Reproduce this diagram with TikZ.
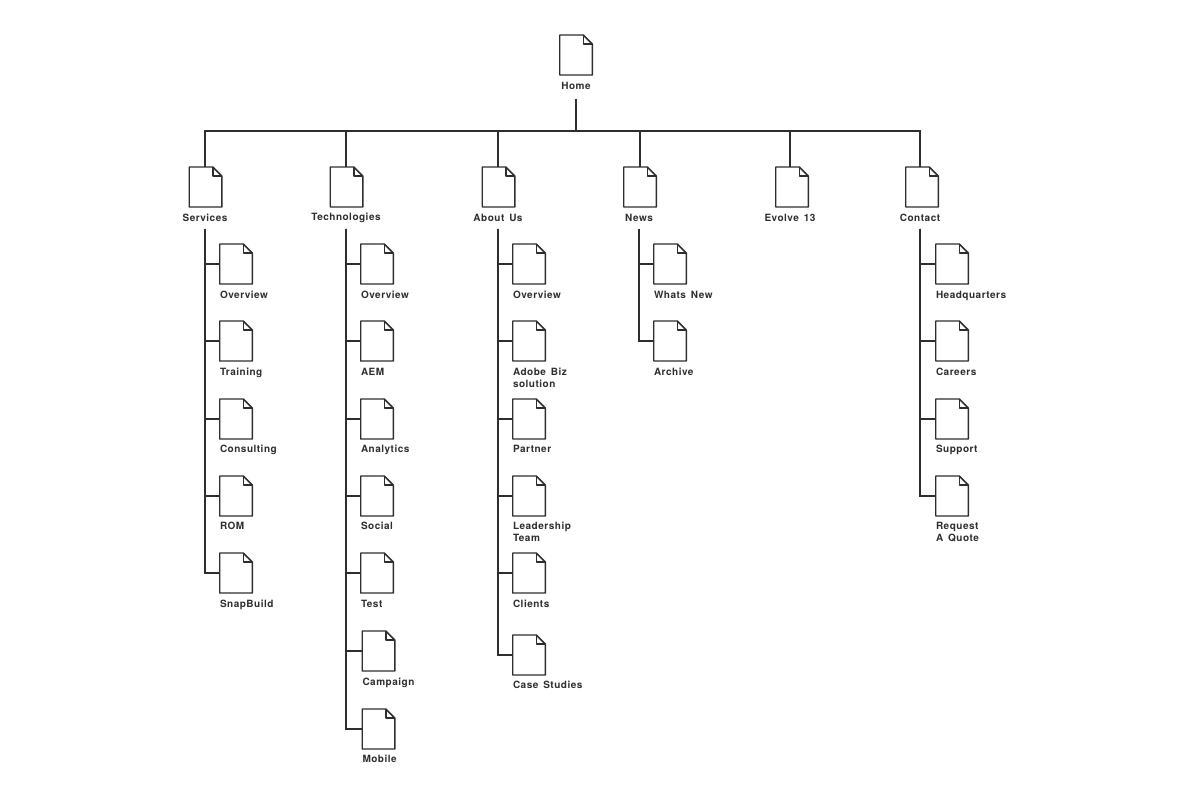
\documentclass[tikz,border=0pt]{standalone}
\usepackage{fontspec}
\setmainfont[LetterSpace=5,WordSpace=1.5]{TeX Gyre Heros}
\usetikzlibrary{calc}
\definecolor{clrLine}{HTML}{2E2E2E}
\tikzset{
  doc/.style={rectangle, inner sep=0pt, outer sep=0pt,
    minimum width=24.4pt, minimum height=30pt,
    append after command={\pgfextra{
      \draw[docline] ($(\tikzlastnode.north east)+(-9,0)$) -- (\tikzlastnode.north west)
        -- (\tikzlastnode.south west) -- (\tikzlastnode.south east)
        -- ($(\tikzlastnode.north east)+(0,9)$) -- cycle;
      \draw[docline] ($(\tikzlastnode.north east)+(-9,0)$) -- ++(0,9)
        -- ($(\tikzlastnode.north east)+(0,9)$);
    }}},
  docline/.style={line width=1.1pt, clrLine, line join=round},
  wire/.style={line width=1.15pt, clrLine},
  lab/.style={inner sep=0pt, outer sep=0pt, text=clrLine, minimum height=16.5pt,
    font=\fontsize{7.5}{9.4}\selectfont\bfseries},
  leaf/.style={inner sep=0pt, outer sep=0pt, text=clrLine, anchor=north west, align=left,
    font=\fontsize{7.5}{9.4}\selectfont\bfseries},
}
\begin{document}
\begin{tikzpicture}[x=0.75pt, y=-0.75pt]
\useasboundingbox (0,0) rectangle (1200,803);

\def\ylab{217.5}
\def\ytop{187}

% home
\node[doc] (docHome) at (576, 55) {};
\node[lab, minimum height=19.5pt] (labHome) at (576, 85.5) {Home};
\coordinate (bus) at (576, 131);
\draw[wire] (labHome.south) -- (bus);

% first level
\node[doc] (docServices) at (205.5, \ytop) {};
\node[lab] (labServices) at (205, \ylab) {Services};
\node[doc] (docTech) at (346.5, \ytop) {};
\node[lab] (labTech) at (346, \ylab) {Technologies};
\node[doc] (docAbout) at (498.5, \ytop) {};
\node[lab] (labAbout) at (498, \ylab) {About Us};
\node[doc] (docNews) at (640, \ytop) {};
\node[lab] (labNews) at (639, \ylab) {News};
\node[doc] (docEvolve) at (792, \ytop) {};
\node[lab] (labEvolve) at (790, \ylab) {Evolve 13};
\node[doc] (docContact) at (922, \ytop) {};
\node[lab] (labContact) at (920, \ylab) {Contact};
\draw[wire] ([xshift=-0.4pt]docServices.north) |- (bus);
\draw[wire] ([xshift=-0.4pt]docTech.north) |- (bus);
\draw[wire] ([xshift=-0.4pt]docAbout.north) |- (bus);
\draw[wire] (docNews.north) |- (bus);
\draw[wire] ([xshift=-1.5pt]docEvolve.north) |- (bus);
\draw[wire] ([xshift=-1.5pt]docContact.north) |- (bus);

% services
\node[doc] (s1) at (236, 264) {};
\node[leaf] (ls1) at (220, 291) {Overview};
\node[doc] (s2) at (236, 341) {};
\node[leaf] (ls2) at (220, 368) {Training};
\node[doc] (s3) at (236, 419) {};
\node[leaf] (ls3) at (220, 445) {Consulting};
\node[doc] (s4) at (236, 496) {};
\node[leaf] (ls4) at (220, 522) {ROM};
\node[doc] (s5) at (236, 573) {};
\node[leaf] (ls5) at (220, 600) {SnapBuild};
\draw[wire] (labServices.south) |- (s1.west);
\draw[wire] (labServices.south) |- (s2.west);
\draw[wire] (labServices.south) |- (s3.west);
\draw[wire] (labServices.south) |- (s4.west);
\draw[wire] (labServices.south) |- (s5.west);

% technologies
\node[doc] (t1) at (377, 264) {};
\node[leaf] (lt1) at (361, 291) {Overview};
\node[doc] (t2) at (377, 341) {};
\node[leaf] (lt2) at (361, 368) {AEM};
\node[doc] (t3) at (377, 419) {};
\node[leaf] (lt3) at (361, 445) {Analytics};
\node[doc] (t4) at (377, 496) {};
\node[leaf] (lt4) at (361, 522) {Social};
\node[doc] (t5) at (377, 573) {};
\node[leaf] (lt5) at (361, 600) {Test};
\node[doc] (t6) at (378.5, 651) {};
\node[leaf] (lt6) at (362.5, 678) {Campaign};
\node[doc] (t7) at (378.5, 729) {};
\node[leaf] (lt7) at (362.5, 755) {Mobile};
\draw[wire] (labTech.south) |- (t1.west);
\draw[wire] (labTech.south) |- (t2.west);
\draw[wire] (labTech.south) |- (t3.west);
\draw[wire] (labTech.south) |- (t4.west);
\draw[wire] (labTech.south) |- (t5.west);
\draw[wire] (labTech.south) |- (t6.west);
\draw[wire] (labTech.south) |- (t7.west);

% about us
\node[doc] (a1) at (529, 264) {};
\node[leaf] (la1) at (513, 291) {Overview};
\node[doc] (a2) at (529, 341) {};
\node[leaf] (la2) at (513, 368) {Adobe Biz\\solution};
\node[doc] (a3) at (529, 419) {};
\node[leaf] (la3) at (513, 445) {Partner};
\node[doc] (a4) at (529, 496) {};
\node[leaf] (la4) at (513, 522) {Leadership\\Team};
\node[doc] (a5) at (529, 573) {};
\node[leaf] (la5) at (513, 600) {Clients};
\node[doc] (a6) at (529, 655) {};
\node[leaf] (la6) at (513, 681) {Case Studies};
\draw[wire] (labAbout.south) |- (a1.west);
\draw[wire] (labAbout.south) |- (a2.west);
\draw[wire] (labAbout.south) |- (a3.west);
\draw[wire] (labAbout.south) |- (a4.west);
\draw[wire] (labAbout.south) |- (a5.west);
\draw[wire] (labAbout.south) |- (a6.west);

% news
\node[doc] (n1) at (670, 264) {};
\node[leaf] (ln1) at (654, 291) {Whats New};
\node[doc] (n2) at (670, 341) {};
\node[leaf] (ln2) at (654, 368) {Archive};
\draw[wire] (labNews.south) |- (n1.west);
\draw[wire] (labNews.south) |- (n2.west);

% contact
\node[doc] (c1) at (952, 264) {};
\node[leaf] (lc1) at (936, 291) {Headquarters};
\node[doc] (c2) at (952, 341) {};
\node[leaf] (lc2) at (936, 368) {Careers};
\node[doc] (c3) at (952, 419) {};
\node[leaf] (lc3) at (936, 445) {Support};
\node[doc] (c4) at (952, 496) {};
\node[leaf] (lc4) at (936, 522) {Request\\A Quote};
\draw[wire] (labContact.south) |- (c1.west);
\draw[wire] (labContact.south) |- (c2.west);
\draw[wire] (labContact.south) |- (c3.west);
\draw[wire] (labContact.south) |- (c4.west);

\end{tikzpicture}
\end{document}
